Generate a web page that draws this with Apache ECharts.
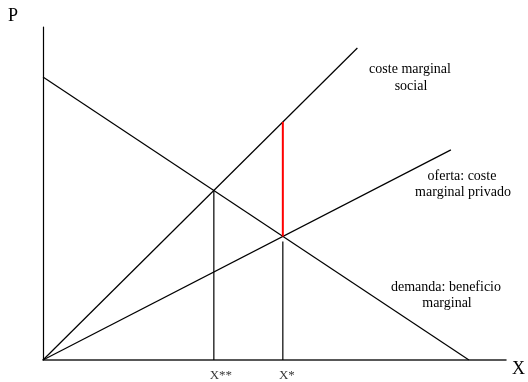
<!DOCTYPE html>
<html><head><meta charset="utf-8">
<script src="https://cdn.jsdelivr.net/npm/echarts@6/dist/echarts.min.js"></script>
<style>html,body{margin:0;padding:0;background:#fff}#c{width:528px;height:382px}</style>
</head><body><div id="c"></div>
<script>
// Values (arbitrary units, x 0..100, y 0..100)
const demandX = [0, 92];
const demandY = [85, 0];
const socialX = [0, 67.9];
const socialY = [0, 93.7];
const privateX = [0, 88.1];
const privateY = [0, 63.1];
const xStarStar = 36.9, yStarStar = 50.9;
const xStar = 51.8, yStar = 37.1, ySocialAtStar = 71.5;
const tickNames = ['X**', 'X*'];
const tickXs = [xStarStar, xStar];

const ff = '"Liberation Serif","DejaVu Serif",serif';
const pts = (xs, ys) => xs.map((x, i) => [x, ys[i]]);
const lineSeries = (data, color, w) => ({
  type: 'line', data, symbol: 'none', silent: true, animation: false,
  lineStyle: { color, width: w }
});
const txt = (t, x, y) => ({ type: 'text', x, y, style: { text: t, font: '14px ' + ff, fill: '#000', align: 'center', verticalAlign: 'middle' } });

const chart = echarts.init(document.getElementById('c'));
chart.setOption({
  animation: false,
  grid: { left: 43, right: 21, top: 27, bottom: 22 },
  xAxis: {
    type: 'value', min: 0, max: 100,
    axisLine: { lineStyle: { color: '#222', width: 1.5 } },
    axisTick: { show: false }, axisLabel: { show: false }, splitLine: { show: false },
    name: 'X', nameLocation: 'end', nameGap: 6,
    nameTextStyle: { fontFamily: ff, fontSize: 18, color: '#000', verticalAlign: 'top' }
  },
  yAxis: {
    type: 'value', min: 0, max: 100,
    axisLine: { lineStyle: { color: '#000', width: 1.2 } },
    axisTick: { show: false }, axisLabel: { show: false }, splitLine: { show: false }
  },
  graphic: [
    { type: 'text', left: 8, top: 7, style: { text: 'P', font: '18px ' + ff, fill: '#000' } },
    txt('coste marginal', 410, 69),
    txt('social', 411, 86),
    txt('oferta: coste', 462, 176),
    txt('marginal privado', 463, 192),
    txt('demanda: beneficio', 446, 287),
    txt('marginal', 447, 303)
  ],
  series: [
    lineSeries(pts(demandX, demandY), '#000', 1.2),
    lineSeries(pts(socialX, socialY), '#000', 1.2),
    lineSeries(pts(privateX, privateY), '#000', 1.2),
    lineSeries([[xStarStar, 0], [xStarStar, yStarStar]], '#000', 1.2),
    lineSeries([[xStar, 0], [xStar, yStar - 1.5]], '#000', 1.2),
    lineSeries([[xStar, yStar], [xStar, ySocialAtStar]], '#ff0000', 2),
    {
      type: 'scatter', symbolSize: 0, silent: true, animation: false,
      data: tickXs.map((x, i) => ({ value: [x, 0], name: tickNames[i],
        label: { offset: [i === 0 ? 7 : 4, 0] } })),
      label: { show: true, position: 'bottom', distance: 9, formatter: p => p.name,
        fontFamily: ff, fontSize: 13, color: '#000' }
    }
  ]
});
</script></body></html>
